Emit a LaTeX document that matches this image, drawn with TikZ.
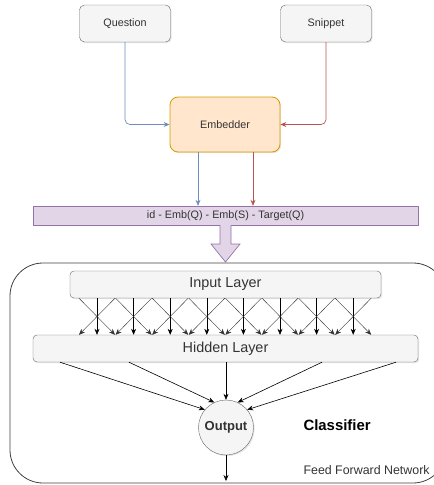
\documentclass[tikz,border=0pt]{standalone}
\usepackage{fontspec}
\setmainfont{Liberation Sans}
\usetikzlibrary{arrows.meta,shadows}

\definecolor{boxfill}{HTML}{F5F5F5}
\definecolor{boxline}{HTML}{666666}
\definecolor{txt}{HTML}{333333}
\definecolor{embfill}{HTML}{FFE6CC}
\definecolor{embline}{HTML}{D79B00}
\definecolor{qblue}{HTML}{6C8EBF}
\definecolor{sred}{HTML}{B85450}
\definecolor{purfill}{HTML}{E1D5E7}
\definecolor{purline}{HTML}{9673A6}

\begin{document}
\begin{tikzpicture}[
    x=1pt, y=-1pt,
    shade/.style={drop shadow={opacity=0.2, shadow xshift=1.2pt, shadow yshift=-1.2pt}},
    source/.style={rectangle, rounded corners=5pt, draw=boxline, fill=boxfill, text=txt, shade,
        minimum width=91pt, minimum height=37pt, inner sep=0pt, font=\fontsize{10.8}{12}\selectfont},
    embed/.style={rectangle, rounded corners=8pt, draw=embline, fill=embfill, text=txt, shade, line width=0.8pt,
        minimum width=110pt, minimum height=55pt, inner sep=0pt, font=\fontsize{10.8}{12}\selectfont},
    featbar/.style={rectangle, draw=purline, fill=purfill, text=txt,
        minimum width=385pt, minimum height=19pt, inner sep=0pt, font=\fontsize{10.8}{12}\selectfont},
    layer/.style={rectangle, rounded corners=4pt, draw=boxline, fill=boxfill, text=txt, shade,
        minimum height=27pt, inner sep=0pt, font=\fontsize{14.4}{16}\selectfont},
    neuron/.style={circle, draw=boxline, fill=boxfill, text=txt, shade,
        minimum size=55pt, inner sep=0pt, font=\bfseries\fontsize{13}{15}\selectfont},
    tip/.style={-{Stealth[length=6pt, width=5pt]}},
    qline/.style={tip, draw=qblue, rounded corners=5pt, line width=0.7pt},
    sline/.style={tip, draw=sred, rounded corners=5pt, line width=0.7pt},
    link/.style={tip, draw=black, line width=0.6pt},
    cross/.style={tip, draw=black!80, line width=0.4pt}
]
\useasboundingbox (0,0) rectangle (434,485);

% container of the classifier
\draw[black!75, line width=0.8pt, rounded corners=33pt] (10,263) rectangle (446,483);

% inputs and embedder
\node[source] (quest) at (125,23.5) {Question};
\node[source] (snip) at (326,23.5) {Snippet};
\node[embed] (emb) at (225,124.5) {Embedder};

\draw[qline] (quest.south) |- (emb.west);
\draw[sline] (snip.south) |- (emb.east);

% feature vector
\node[featbar] (feat) at (225.5,215.5) {id - Emb(Q) - Emb(S) - Target(Q)};

\draw[qline] ([xshift=-27pt]emb.south) -- ([xshift=-27pt]emb.south |- feat.north);
\draw[sline] ([xshift=28pt]emb.south) -- ([xshift=28pt]emb.south |- feat.north);

% big arrow into the classifier
\draw[draw=purline, fill=purfill, line width=0.7pt]
    (220,225) -- (220,244) -- (211,244) -- (225.5,262) -- (240,244) -- (231,244) -- (231,225);

% layers of the network
\node[layer, minimum width=311pt] (inp) at (225.5,284.5) {Input Layer};
\node[layer, minimum width=385pt] (hid) at (225.5,348.5) {Hidden Layer};
\node[neuron] (out) at (226,427.5) {Output};

% dense links between input and hidden layer
\foreach \x in {97,133.6,170.2,206.8,243.4,280,316.6,353.2} {
    \draw[link] (inp.south -| \x,0) -- (hid.north -| \x,0);
    \draw[cross] (inp.south -| {\x-18},0) -- (hid.north -| {\x+18},0);
    \draw[cross] (inp.south -| {\x+18},0) -- (hid.north -| {\x-18},0);
}

% hidden layer to output
\draw[link] (hid.south -| 60,0) -- (out.140);
\draw[link] (hid.south -| 129,0) -- (out.115);
\draw[link] (hid.south -| 226,0) -- (out.north);
\draw[link] (hid.south -| 322,0) -- (out.65);
\draw[link] (hid.south -| 396,0) -- (out.40);

\coordinate (result) at (226,481);
\draw[link] (out.south) -- (result);

% labels
\node[anchor=west, text=black, font=\bfseries\fontsize{14.9}{17}\selectfont] (clf) at (300,425) {Classifier};
\node[anchor=west, text=txt, font=\fontsize{12.4}{14}\selectfont] (ffn) at (300,470) {Feed Forward Network};

\end{tikzpicture}
\end{document}
